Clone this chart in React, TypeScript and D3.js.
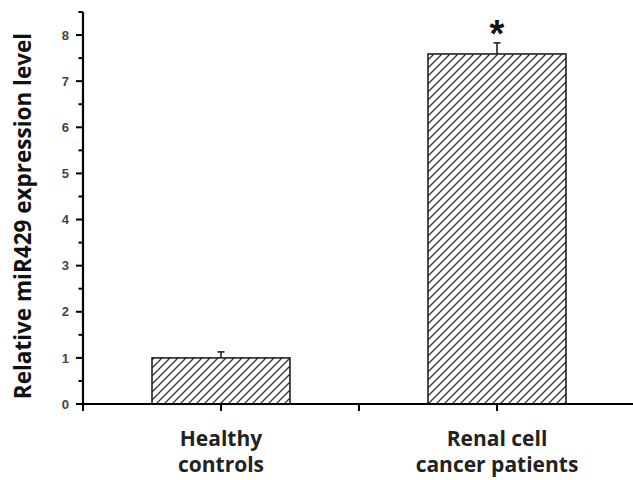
import React, { useRef, useEffect } from 'react'
import * as d3 from 'd3'

const categories = ["Healthy controls", "Renal cell cancer patients"]
const labelLines = [["Healthy", "controls"], ["Renal cell", "cancer patients"]]
const positions = [1, 2]
const means = [1.0, 7.59]
const errors = [0.13, 0.24]
const significant = [false, true]
const yTicks = [0, 1, 2, 3, 4, 5, 6, 7, 8]
const yMinorTicks = [0.5, 1.5, 2.5, 3.5, 4.5, 5.5, 6.5, 7.5, 8.5]
const xTicks = [0.5, 1, 1.5, 2]

const layout = { width: 633, height: 480, left: 83, bottom: 404, top: 12, right: 635 }

export default function App() {
  const ref = useRef<SVGSVGElement>(null)

  useEffect(() => {
    const svg = d3.select(ref.current)
    svg.selectAll("*").remove()

    const x = d3.scaleLinear().domain([0.5, 2.5]).range([layout.left, layout.right])
    const y = d3.scaleLinear().domain([0, 8.5]).range([layout.bottom, layout.top])
    const barW = x(1.5) - x(1)

    svg.append("defs").append("pattern")
      .attr("id", "hatch")
      .attr("patternUnits", "userSpaceOnUse")
      .attr("width", 8).attr("height", 8)
      .append("path")
      .attr("d", "M-2,2 l4,-4 M0,8 l8,-8 M6,10 l4,-4")
      .attr("stroke", "#3a3a3a")
      .attr("stroke-width", 1.4)

    const data = categories.map((c, i) => ({ c, pos: positions[i], mean: means[i], err: errors[i], sig: significant[i] }))

    const g = svg.append("g")
    g.selectAll(".err").data(data).join("line")
      .attr("x1", d => x(d.pos)).attr("x2", d => x(d.pos))
      .attr("y1", d => y(d.mean)).attr("y2", d => y(d.mean + d.err))
      .attr("stroke", "#222").attr("stroke-width", 1.6)
    g.selectAll(".cap").data(data).join("line")
      .attr("x1", d => x(d.pos) - 3.5).attr("x2", d => x(d.pos) + 3.5)
      .attr("y1", d => y(d.mean + d.err)).attr("y2", d => y(d.mean + d.err))
      .attr("stroke", "#222").attr("stroke-width", 1.6)

    g.selectAll(".bar").data(data).join("rect")
      .attr("x", d => x(d.pos) - barW / 2)
      .attr("y", d => y(d.mean))
      .attr("width", barW)
      .attr("height", d => y(0) - y(d.mean))
      .attr("fill", "url(#hatch)")
      .attr("stroke", "#222")
      .attr("stroke-width", 1.6)

    g.selectAll(".star").data(data.filter(d => d.sig)).join("text")
      .attr("x", d => x(d.pos))
      .attr("y", d => y(d.mean + d.err) + 4)
      .attr("text-anchor", "middle")
      .attr("font-family", "Liberation Sans, Arial, sans-serif")
      .attr("font-weight", "bold")
      .attr("font-size", 38)
      .attr("fill", "#111")
      .text("*")

    // y axis
    const ya = svg.append("g")
    ya.append("line")
      .attr("x1", layout.left).attr("x2", layout.left)
      .attr("y1", y(8.5)).attr("y2", y(0) + 1)
      .attr("stroke", "#000").attr("stroke-width", 2.2)
    ya.selectAll(".maj").data(yTicks).join("line")
      .attr("x1", layout.left - 7).attr("x2", layout.left)
      .attr("y1", d => y(d)).attr("y2", d => y(d))
      .attr("stroke", "#000").attr("stroke-width", 2)
    ya.selectAll(".min").data(yMinorTicks).join("line")
      .attr("x1", layout.left - 4.5).attr("x2", layout.left)
      .attr("y1", d => y(d)).attr("y2", d => y(d))
      .attr("stroke", "#000").attr("stroke-width", 2)
    ya.selectAll(".lab").data(yTicks).join("text")
      .attr("x", layout.left - 14)
      .attr("y", d => y(d))
      .attr("dy", "0.36em")
      .attr("text-anchor", "end")
      .attr("font-family", "Liberation Sans, Arial, sans-serif")
      .attr("font-weight", "bold")
      .attr("font-size", 13)
      .attr("fill", "#444")
      .text(d => d)

    svg.append("text")
      .attr("transform", `translate(31, 216) rotate(-90)`)
      .attr("text-anchor", "middle")
      .attr("font-family", "Open Sans, sans-serif")
      .attr("font-weight", "bold")
      .attr("font-size", 22.5)
      .attr("fill", "#111")
      .text("Relative miR429 expression level")

    // x axis
    const xa = svg.append("g")
    xa.append("line")
      .attr("x1", layout.left - 1).attr("x2", layout.right)
      .attr("y1", layout.bottom).attr("y2", layout.bottom)
      .attr("stroke", "#000").attr("stroke-width", 2.2)
    xa.selectAll(".xt").data(xTicks).join("line")
      .attr("x1", d => x(d)).attr("x2", d => x(d))
      .attr("y1", layout.bottom).attr("y2", layout.bottom + 7)
      .attr("stroke", "#000").attr("stroke-width", 2)
    xa.selectAll(".xl").data(data).join("text")
      .attr("x", d => x(d.pos))
      .attr("y", 446)
      .attr("text-anchor", "middle")
      .attr("font-family", "Open Sans, sans-serif")
      .attr("font-weight", "bold")
      .attr("font-size", 21)
      .attr("fill", "#222")
      .each(function (d, i) {
        d3.select(this).selectAll("tspan").data(labelLines[i]).join("tspan")
          .attr("x", x(d.pos))
          .attr("dy", (_, j) => j === 0 ? 0 : 26)
          .text(t => t)
      })
  }, [])

  return (
    <svg ref={ref} width={layout.width} height={layout.height}
      style={{ position: 'absolute', left: 0, top: 0, background: '#fff' }} />
  )
}
